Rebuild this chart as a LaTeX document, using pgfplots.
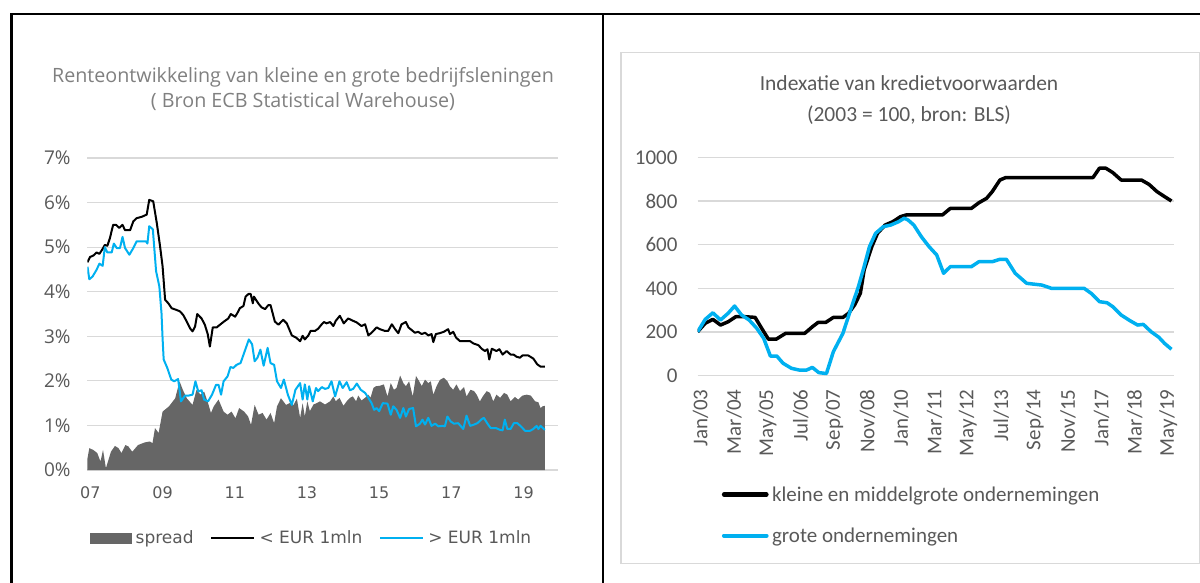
\documentclass[border=0pt]{standalone}
\usepackage{pgfplots}
\pgfplotsset{compat=1.18}
\usepackage{fontspec}
\setmainfont{Open Sans}
\newfontfamily\dejavu{DejaVu Sans}
\newfontfamily\carlito{Carlito}
\definecolor{spreadgray}{HTML}{666666}
\definecolor{lblue}{HTML}{00B0F0}
\definecolor{gridgray}{HTML}{D9D9D9}
\definecolor{txtgray}{HTML}{595959}
\definecolor{ttlgray}{HTML}{808080}

% left chart: interest rates (%), x = decimal year
\pgfplotstableread{
x y
2006.92 0.26
2006.97 0.49
2007.08 0.45
2007.19 0.38
2007.28 0.19
2007.35 0.45
2007.43 0.04
2007.57 0.41
2007.68 0.54
2007.78 0.49
2007.86 0.38
2007.97 0.56
2008.05 0.53
2008.16 0.41
2008.32 0.56
2008.51 0.62
2008.65 0.64
2008.72 0.60
2008.79 0.94
2008.89 0.83
2009.00 1.31
2009.18 1.43
2009.35 1.61
2009.47 1.99
2009.56 1.80
2009.67 1.61
2009.83 1.46
2009.94 1.80
2010.05 1.69
2010.15 1.76
2010.26 1.50
2010.34 1.28
2010.42 1.43
2010.55 1.58
2010.69 1.31
2010.80 1.24
2010.91 1.31
2011.02 1.16
2011.12 1.39
2011.26 1.31
2011.37 1.20
2011.45 1.01
2011.55 1.46
2011.66 1.24
2011.77 1.28
2011.88 1.13
2011.99 1.28
2012.09 1.05
2012.17 1.43
2012.28 1.61
2012.42 1.46
2012.52 1.50
2012.62 1.45
2012.72 1.60
2012.81 1.17
2012.88 1.50
2012.94 1.20
2013.01 1.54
2013.08 1.32
2013.18 1.47
2013.27 1.50
2013.36 1.54
2013.50 1.47
2013.64 1.54
2013.73 1.65
2013.80 1.54
2013.90 1.62
2014.01 1.44
2014.10 1.54
2014.19 1.62
2014.27 1.65
2014.36 1.54
2014.42 1.67
2014.51 1.56
2014.61 1.62
2014.70 1.69
2014.76 1.62
2014.84 1.84
2014.91 1.88
2015.02 1.89
2015.13 1.92
2015.23 1.65
2015.32 1.95
2015.41 1.80
2015.48 1.84
2015.58 2.12
2015.67 1.95
2015.74 1.88
2015.83 1.99
2015.93 1.65
2016.02 2.11
2016.11 1.99
2016.18 1.88
2016.27 2.03
2016.36 1.95
2016.43 1.99
2016.50 1.69
2016.59 1.88
2016.68 2.02
2016.79 2.07
2016.89 1.99
2016.96 1.88
2017.05 1.80
2017.14 1.92
2017.24 1.77
2017.35 1.86
2017.42 1.65
2017.53 1.80
2017.63 1.77
2017.70 1.69
2017.79 1.54
2017.87 1.65
2017.98 1.77
2018.07 1.73
2018.16 1.54
2018.25 1.69
2018.35 1.62
2018.46 1.73
2018.55 1.69
2018.64 1.54
2018.76 1.64
2018.85 1.58
2018.97 1.67
2019.09 1.69
2019.20 1.67
2019.32 1.54
2019.41 1.52
2019.47 1.39
2019.53 1.43
2019.59 1.44
}\spread

\pgfplotstableread{
x y
2006.92 4.66
2006.99 4.78
2007.08 4.81
2007.17 4.88
2007.25 4.85
2007.34 4.96
2007.40 5.05
2007.47 5.03
2007.54 5.20
2007.63 5.50
2007.71 5.50
2007.80 5.43
2007.89 5.50
2007.96 5.38
2008.10 5.38
2008.19 5.58
2008.28 5.65
2008.42 5.68
2008.56 5.73
2008.63 6.06
2008.74 6.03
2008.84 5.54
2008.93 5.02
2009.00 4.57
2009.07 3.82
2009.16 3.74
2009.25 3.63
2009.39 3.59
2009.48 3.56
2009.57 3.48
2009.67 3.33
2009.76 3.18
2009.83 3.11
2009.90 3.22
2009.96 3.50
2010.08 3.40
2010.17 3.26
2010.25 3.05
2010.31 2.77
2010.39 3.20
2010.50 3.20
2010.59 3.26
2010.70 3.33
2010.82 3.40
2010.89 3.50
2011.01 3.44
2011.07 3.52
2011.14 3.63
2011.24 3.68
2011.30 3.89
2011.38 3.95
2011.44 3.95
2011.50 3.74
2011.53 3.89
2011.65 3.74
2011.74 3.65
2011.84 3.61
2011.93 3.70
2011.99 3.70
2012.11 3.33
2012.21 3.26
2012.34 3.37
2012.44 3.29
2012.58 3.02
2012.70 2.97
2012.81 2.89
2012.88 3.01
2012.94 2.93
2013.04 3.02
2013.10 3.12
2013.22 3.12
2013.31 3.17
2013.41 3.27
2013.47 3.32
2013.54 3.29
2013.64 3.32
2013.73 3.23
2013.80 3.35
2013.91 3.46
2014.02 3.29
2014.14 3.40
2014.27 3.35
2014.38 3.31
2014.51 3.23
2014.61 3.27
2014.70 3.02
2014.79 3.08
2014.93 3.20
2015.02 3.16
2015.16 3.12
2015.25 3.12
2015.35 3.27
2015.44 3.16
2015.53 3.07
2015.62 3.27
2015.74 3.32
2015.81 3.20
2015.90 3.14
2015.99 3.08
2016.08 3.10
2016.18 3.05
2016.27 3.08
2016.36 3.02
2016.45 3.05
2016.50 2.87
2016.57 3.05
2016.68 3.07
2016.79 3.10
2016.91 3.16
2016.96 3.05
2017.05 3.10
2017.13 2.97
2017.24 2.89
2017.38 2.89
2017.52 2.89
2017.61 2.84
2017.75 2.80
2017.84 2.72
2017.93 2.67
2018.00 2.71
2018.05 2.48
2018.12 2.72
2018.25 2.67
2018.33 2.71
2018.42 2.59
2018.53 2.67
2018.64 2.59
2018.72 2.59
2018.81 2.54
2018.90 2.52
2018.97 2.57
2019.13 2.57
2019.27 2.50
2019.38 2.37
2019.47 2.32
2019.59 2.32
}\small

\pgfplotstableread{
x y
2006.92 4.56
2006.97 4.28
2007.06 4.34
2007.17 4.49
2007.25 4.63
2007.34 4.58
2007.40 5.00
2007.47 4.88
2007.59 4.88
2007.65 5.08
2007.73 4.98
2007.82 4.98
2007.89 5.23
2007.96 4.98
2008.08 4.83
2008.19 4.98
2008.28 5.13
2008.42 5.13
2008.54 5.13
2008.58 5.08
2008.63 5.47
2008.73 5.40
2008.82 4.46
2008.91 4.12
2008.97 3.52
2009.00 2.95
2009.03 2.48
2009.13 2.29
2009.24 2.03
2009.32 1.99
2009.43 2.04
2009.51 1.54
2009.62 1.67
2009.72 1.67
2009.83 1.69
2009.91 1.99
2009.99 1.76
2010.08 1.79
2010.15 1.58
2010.26 1.54
2010.37 1.69
2010.48 1.91
2010.55 1.91
2010.62 1.69
2010.69 1.99
2010.80 2.10
2010.88 2.31
2010.96 2.29
2011.05 2.36
2011.16 2.40
2011.26 2.63
2011.39 2.93
2011.48 2.82
2011.55 2.44
2011.63 2.52
2011.71 2.70
2011.80 2.34
2011.91 2.74
2011.99 2.40
2012.09 2.36
2012.17 1.99
2012.28 1.84
2012.36 2.03
2012.47 1.69
2012.58 1.46
2012.68 1.80
2012.81 1.95
2012.88 1.58
2012.94 1.92
2013.01 1.58
2013.06 1.88
2013.16 1.54
2013.25 1.84
2013.31 1.77
2013.41 1.86
2013.50 1.82
2013.59 1.84
2013.68 1.99
2013.78 1.65
2013.90 1.99
2013.99 1.84
2014.10 1.97
2014.19 1.79
2014.28 1.82
2014.38 1.94
2014.49 1.80
2014.61 1.73
2014.70 1.62
2014.79 1.50
2014.86 1.35
2014.93 1.39
2015.00 1.32
2015.10 1.50
2015.23 1.49
2015.32 1.24
2015.39 1.43
2015.48 1.35
2015.58 1.17
2015.67 1.39
2015.74 1.20
2015.83 1.37
2015.94 1.39
2016.02 0.98
2016.13 1.04
2016.20 1.13
2016.27 1.02
2016.36 1.17
2016.45 0.99
2016.55 1.04
2016.64 0.98
2016.76 0.99
2016.82 0.98
2016.89 1.20
2016.98 1.09
2017.07 1.04
2017.19 1.05
2017.33 0.92
2017.42 1.22
2017.52 0.99
2017.63 1.02
2017.72 1.05
2017.84 1.14
2017.90 1.17
2018.00 1.04
2018.09 0.94
2018.24 0.94
2018.35 0.90
2018.42 0.89
2018.48 1.13
2018.55 0.92
2018.64 0.92
2018.73 1.05
2018.83 1.05
2018.95 0.96
2019.04 0.88
2019.18 0.88
2019.27 0.92
2019.36 0.99
2019.41 0.92
2019.47 0.99
2019.59 0.90
}\large

% right chart: index, x = months since Jan 2003
\pgfplotstableread{
x y
0 201
3.2 240
6.4 258
9.6 232
12.8 247
16.0 270
20.0 270
24.1 267
27.3 209
29.7 167
32.9 167
36.9 194
40.9 194
44.9 194
48.1 224
50.5 244
53.7 244
56.9 267
60.9 267
63.3 286
65.8 324
68.2 377
69.8 484
73.0 591
75.4 652
78.6 690
81.8 705
85.0 728
87.4 736
102.6 736
105.9 766
114.7 766
117.9 792
121.1 812
123.5 843
126.7 896
129.1 907
165.7 907
168.4 950
171.1 950
174.0 930
177.5 896
186.0 896
189.2 876
192.5 843
195.7 820
198.6 800
}\kmo

\pgfplotstableread{
x y
0 201
3.2 258
6.4 288
9.6 255
12.8 286
15.5 319
18.4 278
21.6 255
24.8 217
27.7 171
30.5 90
33.2 90
35.8 57
39.3 34
42.5 26
45.7 26
48.1 38
50.8 14
54.0 10
56.9 110
60.9 194
64.1 301
67.4 408
69.8 500
72.0 590
74.6 652
77.8 682
81.0 690
84.2 705
86.6 721
88.2 713
90.6 690
93.8 636
97.0 591
100.2 553
103.1 469
105.9 499
114.7 499
117.9 522
123.5 522
126.7 533
129.4 533
133.1 469
137.9 423
144.3 415
148.3 400
162.0 400
165.2 375
168.4 339
171.6 334
174.0 316
177.5 278
181.2 252
184.4 232
186.8 235
190.1 201
193.3 176
195.7 148
198.6 121
}\grote

\begin{document}
\begin{tikzpicture}
\useasboundingbox (0pt,0pt) rectangle (1200pt,-583pt);
% frames
\draw[line width=2.4pt] (11.5pt,-583pt) -- (11.5pt,-14pt) -- (1200pt,-14pt);
\draw[line width=2.4pt] (603pt,-14pt) -- (603pt,-583pt);
\draw[gridgray, line width=1.3pt] (621pt,-52.7pt) rectangle (1199.3pt,-563.3pt);

% titles
\node[ttlgray, font=\fontsize{19.7}{23}\selectfont] at (303pt,-77pt) {Renteontwikkeling van kleine en grote bedrijfsleningen};
\node[ttlgray, font=\fontsize{19.7}{23}\selectfont] at (303pt,-102pt) {( Bron ECB Statistical Warehouse)};
\node[txtgray, font=\carlito\fontsize{21.5}{25}\selectfont] at (909pt,-83.3pt) {Indexatie van kredietvoorwaarden};
\node[txtgray, font=\carlito\fontsize{21.5}{25}\selectfont] at (909pt,-115pt) {(2003 = 100, bron: BLS)};

\begin{axis}[
  at={(87.5pt,-470pt)}, anchor=south west, scale only axis,
  width=470pt, height=312pt,
  xmin=2006.92, xmax=2019.94, ymin=0, ymax=7,
  axis line style={draw=none}, major tick length=0pt,
  ymajorgrids, major grid style={gridgray, line width=1.2pt},
  xtick={2007,2009,2011,2013,2015,2017,2019},
  xticklabels={07,09,11,13,15,17,19},
  ytick={0,1,2,3,4,5,6,7},
  yticklabels={0\%,1\%,2\%,3\%,4\%,5\%,6\%,7\%},
  xticklabel style={font=\dejavu\fontsize{16}{19}\selectfont, text=txtgray, anchor=center, yshift=-23pt},
  yticklabel style={font=\fontsize{19}{22}\selectfont, text=txtgray, anchor=east, inner sep=0pt, xshift=-16.7pt},
  legend columns=3,
  legend style={at={(axis description cs:0,0)}, anchor=west, xshift=2pt, yshift=-68pt,
    draw=none, fill=none, inner sep=0pt, font=\dejavu\fontsize{17}{20}\selectfont, text=txtgray,
    nodes={inner sep=1.5pt},
    /tikz/every odd column/.append style={column sep=2.5pt},
    /tikz/every even column/.append style={column sep=15pt}},
]
\addplot[fill=spreadgray, draw=none,
  legend image code/.code={\fill[spreadgray] (0pt,-5.5pt) rectangle (42pt,5.5pt);}]
  table {\spread} \closedcycle;
\addlegendentry{spread}
\addplot[black, line width=2pt, line join=round,
  legend image code/.code={\draw[black, line width=2.4pt] (0pt,0pt) -- (43pt,0pt);}]
  table {\small};
\addlegendentry{< EUR 1mln}
\addplot[lblue, line width=2pt, line join=round,
  legend image code/.code={\draw[lblue, line width=2.4pt] (0pt,0pt) -- (43pt,0pt);}]
  table {\large};
\addlegendentry{> EUR 1mln}
\end{axis}

\begin{axis}[
  at={(697.6pt,-375.7pt)}, anchor=south west, scale only axis,
  width=476.4pt, height=218.4pt,
  xmin=0, xmax=199.66, ymin=0, ymax=1000,
  axis line style={draw=none}, major tick length=0pt,
  ymajorgrids, major grid style={gridgray, line width=1.2pt},
  xtick={0,14,28,42,56,70,84,98,112,126,140,154,168,182,196},
  xticklabels={Jan/03,Mar/04,May/05,Jul/06,Sep/07,Nov/08,Jan/10,Mar/11,May/12,Jul/13,Sep/14,Nov/15,Jan/17,Mar/18,May/19},
  ytick={0,200,400,600,800,1000},
  yticklabels={0,200,400,600,800,1000},
  xticklabel style={font=\carlito\fontsize{21}{25}\selectfont, text=txtgray, yshift=-13.6pt, xshift=3pt, rotate=90, anchor=east, inner sep=0pt},
  yticklabel style={font=\carlito\fontsize{21}{25}\selectfont, text=txtgray, anchor=east, inner sep=0pt, xshift=-19.9pt},
  legend columns=1,
  legend style={at={(axis description cs:0,0)}, anchor=west, xshift=24.1pt, yshift=-139.4pt,
    draw=none, fill=none, inner sep=0pt, font=\carlito\fontsize{21}{25}\selectfont, text=txtgray,
    nodes={inner sep=1.5pt}, row sep=22pt, legend cell align=left,
    /tikz/every odd column/.append style={column sep=2pt}},
]
\addplot[black, line width=3.5pt, line join=round,
  legend image code/.code={\draw[black, line width=4.2pt, line cap=round] (2.1pt,0pt) -- (44.6pt,0pt);}]
  table {\kmo};
\addlegendentry{kleine en middelgrote ondernemingen}
\addplot[lblue, line width=3.5pt, line join=round,
  legend image code/.code={\draw[lblue, line width=4.2pt, line cap=round] (2.1pt,0pt) -- (44.6pt,0pt);}]
  table {\grote};
\addlegendentry{grote ondernemingen}
\end{axis}
\end{tikzpicture}
\end{document}
